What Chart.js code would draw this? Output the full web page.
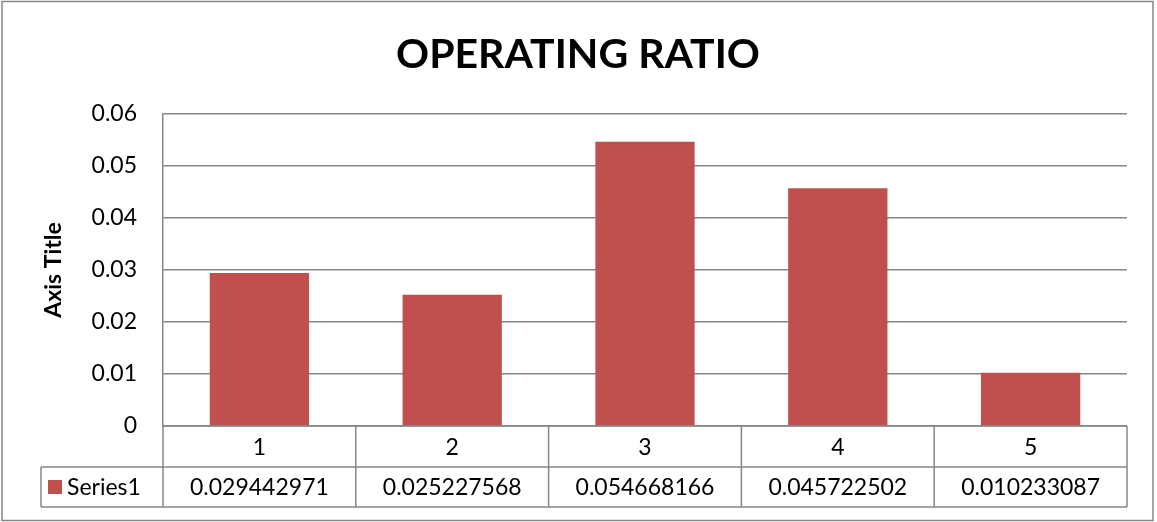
<!DOCTYPE html>
<html>
<head>
<meta charset="utf-8">
<script src="https://cdn.jsdelivr.net/npm/chart.js@4.4.1/dist/chart.umd.min.js"></script>
<style>
  html, body { margin: 0; padding: 0; background: #fff; }
  #wrap { width: 1157px; height: 522px; }
</style>
</head>
<body>
<div id="wrap"><canvas id="ratioChart" width="1157" height="522"></canvas></div>
<script>
const categories = ['1', '2', '3', '4', '5'];
const series1 = [0.029442971, 0.025227568, 0.054668166, 0.045722502, 0.010233087];
const seriesName = 'Series1';
const yTicks = [0, 0.01, 0.02, 0.03, 0.04, 0.05, 0.06];
const chartTitle = 'OPERATING RATIO';

const FONT = 'Lato, "Open Sans", sans-serif';
const LINE = '#868686';
const BAR = '#C0504D';

// white background, outer border and the title centred on the whole frame
const frame = {
  id: 'frame',
  beforeDraw(chart) {
    const ctx = chart.ctx;
    ctx.save();
    ctx.fillStyle = '#fff';
    ctx.fillRect(0, 0, chart.width, chart.height);
    ctx.strokeStyle = LINE;
    ctx.lineWidth = 1.5;
    ctx.strokeRect(2, 1.5, 1151, 519);
    ctx.fillStyle = '#000';
    ctx.font = 'bold 41px ' + FONT;
    ctx.textAlign = 'center';
    ctx.textBaseline = 'middle';
    ctx.fillText(chartTitle, 578, 55);
    ctx.restore();
  }
};

// data table under the plot, cells follow the x scale
const dataTable = {
  id: 'dataTable',
  afterDraw(chart) {
    const ctx = chart.ctx;
    const x = chart.scales.x;
    const area = chart.chartArea;
    const w = x.getPixelForValue(1) - x.getPixelForValue(0);
    const top = area.bottom;
    const mid = top + 41;
    const bot = top + 81;
    const legendLeft = 41;

    ctx.save();
    ctx.strokeStyle = LINE;
    ctx.lineWidth = 1.5;
    ctx.beginPath();
    ctx.moveTo(area.left, top); ctx.lineTo(area.right, top);
    ctx.moveTo(legendLeft, mid); ctx.lineTo(area.right, mid);
    ctx.moveTo(legendLeft, bot); ctx.lineTo(area.right, bot);
    ctx.moveTo(legendLeft, mid); ctx.lineTo(legendLeft, bot);
    for (let i = 0; i <= categories.length; i++) {
      const ex = x.getPixelForValue(0) - w / 2 + i * w;
      ctx.moveTo(ex, top); ctx.lineTo(ex, bot);
    }
    ctx.stroke();

    ctx.fillStyle = '#000';
    ctx.font = '23px ' + FONT;
    ctx.textAlign = 'center';
    ctx.textBaseline = 'middle';
    categories.forEach((c, i) => {
      const cx = x.getPixelForValue(i);
      ctx.fillText(c, cx, (top + mid) / 2 + 1);
      ctx.fillText(String(series1[i]), cx, (mid + bot) / 2 + 1);
    });

    ctx.fillStyle = BAR;
    ctx.fillRect(48, (mid + bot) / 2 - 7, 14, 14);
    ctx.fillStyle = '#000';
    ctx.textAlign = 'left';
    ctx.fillText(seriesName, 67, (mid + bot) / 2 + 1);
    ctx.restore();
  }
};

const ctx = document.getElementById('ratioChart').getContext('2d');

const ratioChart = new Chart(ctx, {
  type: 'bar',
  data: {
    labels: categories,
    datasets: [{
      label: seriesName,
      data: series1,
      backgroundColor: BAR,
      borderWidth: 0,
      barPercentage: 0.515,
      categoryPercentage: 1
    }]
  },
  options: {
    responsive: false,
    animation: false,
    layout: {
      padding: { left: 0, right: 30, top: 114, bottom: 96 }
    },
    scales: {
      x: {
        display: false
      },
      y: {
        min: 0,
        max: 0.06,
        afterBuildTicks: (scale) => {
          scale.ticks = yTicks.map(v => ({ value: v }));
        },
        afterFit: (scale) => {
          scale.width = 163;
        },
        ticks: {
          color: '#000',
          padding: 26,
          font: { family: FONT, size: 23 },
          callback: (v) => String(v)
        },
        grid: {
          color: LINE,
          lineWidth: 1.5,
          drawTicks: false
        },
        border: {
          color: LINE,
          width: 1.5
        },
        title: {
          display: true,
          text: 'Axis Title',
          color: '#000',
          padding: { top: 40, bottom: 0 },
          font: { family: FONT, size: 23, weight: 'bold' }
        }
      }
    },
    plugins: {
      legend: { display: false },
      tooltip: { enabled: false },
      title: { display: false }
    }
  },
  plugins: [frame, dataTable]
});
</script>
</body>
</html>
